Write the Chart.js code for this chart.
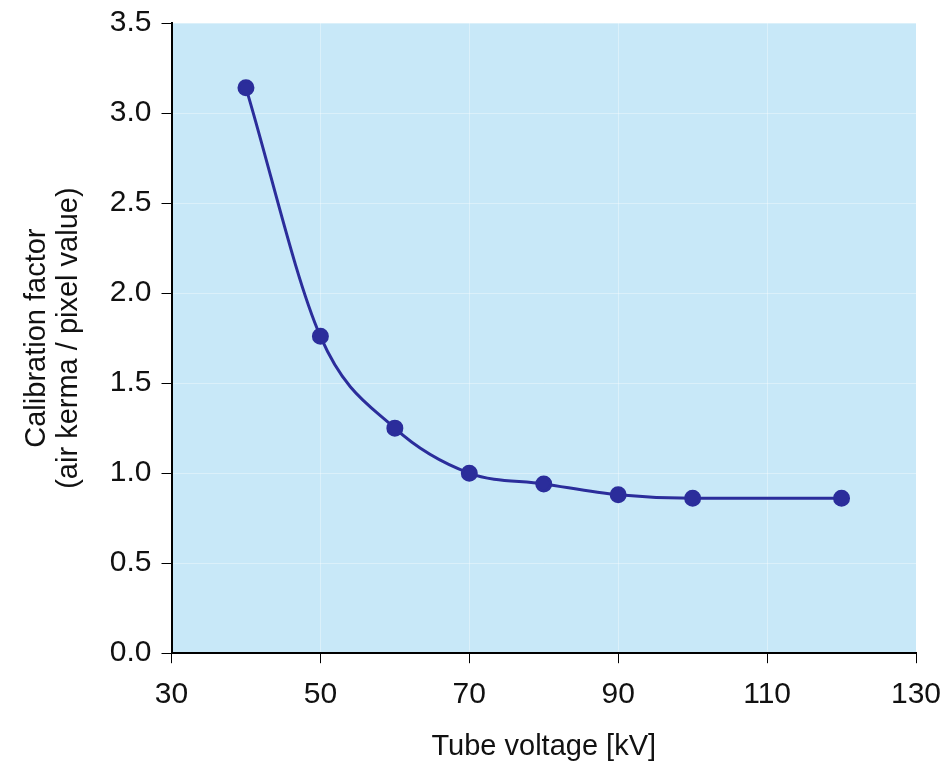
<!DOCTYPE html>
<html>
<head>
<meta charset="utf-8">
<script src="https://cdn.jsdelivr.net/npm/chart.js@4/dist/chart.umd.min.js"></script>
<style>
  html, body { margin: 0; padding: 0; background: #fff; }
  #wrap { width: 951px; height: 774px; }
</style>
</head>
<body>
<div id="wrap"><canvas id="mycanvas" width="951" height="774"></canvas></div>
<script>
var voltage = [40, 50, 60, 70, 80, 90, 100, 120];
var factor = [3.14, 1.76, 1.25, 1.00, 0.94, 0.88, 0.86, 0.86];
var xTicks = [30, 50, 70, 90, 110, 130];
var yTicks = [0.0, 0.5, 1.0, 1.5, 2.0, 2.5, 3.0, 3.5];

var points = [];
for (var i in voltage) {
    points.push({x: voltage[i], y: factor[i]});
}

// paint the plot area light blue
var areaBg = {
    id: 'areaBg',
    beforeDraw: function(chart) {
        var a = chart.chartArea;
        var c = chart.ctx;
        c.save();
        c.fillStyle = '#c8e8f8';
        c.fillRect(a.left, a.top, a.right - a.left, a.bottom - a.top);
        c.restore();
    }
};

Chart.defaults.font.family = '"Liberation Sans", Arial, sans-serif';
Chart.defaults.color = '#111';

var ctx = document.getElementById('mycanvas');
var chart = new Chart(ctx, {
    type: 'scatter',
    data: {
        datasets: [{
            data: points,
            showLine: true,
            borderColor: '#2b2d9b',
            backgroundColor: '#2b2d9b',
            borderWidth: 3,
            pointRadius: 7,
            pointHoverRadius: 7,
            cubicInterpolationMode: 'monotone'
        }]
    },
    options: {
        responsive: false,
        animation: false,
        layout: { padding: { left: 19, right: 35, top: 23, bottom: 6 } },
        plugins: { legend: { display: false }, tooltip: { enabled: false } },
        scales: {
            x: {
                type: 'linear',
                min: 30, max: 130,
                afterBuildTicks: function(axis) {
                    axis.ticks = xTicks.map(function(v) { return {value: v}; });
                },
                afterFit: function(axis) { axis.paddingRight = 0; axis.paddingLeft = 0; },
                grid: { color: 'rgba(255,255,255,0.35)', tickColor: '#000', tickLength: 10, lineWidth: 1 },
                border: { color: '#000', width: 2 },
                ticks: { font: { size: 30 }, color: '#111', padding: 14 },
                title: { display: true, text: 'Tube voltage [kV]', font: { size: 29 }, color: '#111', padding: { top: 2, bottom: 4 } }
            },
            y: {
                min: 0, max: 3.5,
                afterBuildTicks: function(axis) {
                    axis.ticks = yTicks.map(function(v) { return {value: v}; });
                },
                afterFit: function(axis) { axis.paddingTop = 0; axis.paddingBottom = 0; },
                grid: { color: 'rgba(255,255,255,0.35)', tickColor: '#000', tickLength: 10, lineWidth: 1 },
                border: { color: '#000', width: 2 },
                ticks: {
                    font: { size: 30 }, color: '#111', padding: 10,
                    callback: function(v) { return v.toFixed(1); }
                },
                title: {
                    display: true,
                    text: ['Calibration factor', '(air kerma / pixel value)'],
                    font: { size: 29, lineHeight: 1.1 }, color: '#111',
                    padding: { top: 2, bottom: 15 }
                }
            }
        }
    },
    plugins: [areaBg]
});
</script>
</body>
</html>
